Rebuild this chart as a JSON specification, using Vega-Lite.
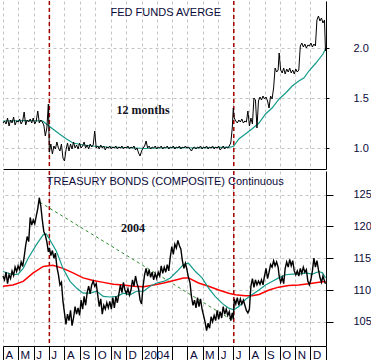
{
  "$schema": "https://vega.github.io/schema/vega-lite/v6.json",
  "padding": 0,
  "spacing": 0,
  "background": "white",
  "config": {
    "view": {"stroke": null},
    "font": "Liberation Sans",
    "axis": {"title": null, "labelColor": "#0a0a3a", "labelFont": "Liberation Sans", "domainColor": "black", "tickColor": "black", "gridColor": "#c4c4c4", "gridDash": [3, 3], "gridWidth": 1, "labelOverlap": false}
  },
  "datasets": {
    "daily": [
      {"d":"2003-04-01","f":1.25,"b":112.2},{"d":"2003-04-04","f":1.27,"b":111.6},{"d":"2003-04-07","f":1.24,"b":112.8},{"d":"2003-04-10","f":1.30,"b":111.0},{"d":"2003-04-13","f":1.22,"b":112.4},{"d":"2003-04-16","f":1.28,"b":111.8},{"d":"2003-04-19","f":1.25,"b":113.0},{"d":"2003-04-22","f":1.31,"b":112.3},{"d":"2003-04-25","f":1.23,"b":113.6},{"d":"2003-04-28","f":1.27,"b":112.9},
      {"d":"2003-05-01","f":1.26,"b":113.8},{"d":"2003-05-04","f":1.29,"b":113.2},{"d":"2003-05-07","f":1.24,"b":114.4},{"d":"2003-05-10","f":1.27,"b":113.7},{"d":"2003-05-13","f":1.36,"b":115.2},{"d":"2003-05-16","f":1.23,"b":117.0},{"d":"2003-05-19","f":1.28,"b":118.4},{"d":"2003-05-22","f":1.26,"b":117.6},{"d":"2003-05-25","f":1.29,"b":121.4},{"d":"2003-05-28","f":1.25,"b":120.2},{"d":"2003-05-31","f":1.30,"b":121.0},
      {"d":"2003-06-03","f":1.24,"b":120.4},{"d":"2003-06-06","f":1.27,"b":121.6},{"d":"2003-06-09","f":1.37,"b":122.8},{"d":"2003-06-12","f":1.25,"b":124.5},{"d":"2003-06-15","f":1.28,"b":123.2},{"d":"2003-06-18","f":1.26,"b":121.0},{"d":"2003-06-21","f":1.23,"b":119.2},{"d":"2003-06-24","f":1.12,"b":118.6},{"d":"2003-06-27","f":1.20,"b":117.6},{"d":"2003-06-30","f":1.44,"b":116.0},
      {"d":"2003-07-02","f":0.96,"b":116.6},{"d":"2003-07-05","f":1.04,"b":115.4},{"d":"2003-07-08","f":0.94,"b":116.2},{"d":"2003-07-11","f":1.02,"b":115.0},{"d":"2003-07-14","f":0.99,"b":115.8},{"d":"2003-07-17","f":1.06,"b":113.6},{"d":"2003-07-20","f":1.00,"b":112.4},{"d":"2003-07-23","f":0.97,"b":110.8},{"d":"2003-07-26","f":1.04,"b":111.2},{"d":"2003-07-29","f":0.90,"b":108.2},
      {"d":"2003-08-01","f":0.87,"b":106.4},{"d":"2003-08-04","f":0.98,"b":104.6},{"d":"2003-08-07","f":1.05,"b":106.2},{"d":"2003-08-10","f":0.97,"b":105.2},{"d":"2003-08-13","f":1.04,"b":106.8},{"d":"2003-08-16","f":0.99,"b":104.4},{"d":"2003-08-19","f":1.06,"b":105.6},{"d":"2003-08-22","f":1.00,"b":107.4},{"d":"2003-08-25","f":1.03,"b":106.2},{"d":"2003-08-28","f":0.99,"b":107.2},{"d":"2003-08-31","f":1.05,"b":106.0},
      {"d":"2003-09-03","f":1.00,"b":108.4},{"d":"2003-09-06","f":1.02,"b":107.0},{"d":"2003-09-09","f":1.06,"b":109.0},{"d":"2003-09-12","f":1.00,"b":107.6},{"d":"2003-09-15","f":1.03,"b":109.6},{"d":"2003-09-18","f":0.99,"b":110.6},{"d":"2003-09-21","f":1.04,"b":109.4},{"d":"2003-09-24","f":1.01,"b":110.8},{"d":"2003-09-27","f":1.03,"b":111.4},{"d":"2003-09-30","f":1.17,"b":110.6},
      {"d":"2003-10-03","f":1.00,"b":111.0},{"d":"2003-10-06","f":1.02,"b":109.2},{"d":"2003-10-09","f":0.99,"b":107.4},{"d":"2003-10-12","f":1.03,"b":108.6},{"d":"2003-10-15","f":1.00,"b":106.2},{"d":"2003-10-18","f":1.02,"b":107.6},{"d":"2003-10-21","f":0.98,"b":107.0},{"d":"2003-10-24","f":1.01,"b":108.0},{"d":"2003-10-27","f":1.00,"b":107.2},{"d":"2003-10-30","f":1.02,"b":108.2},
      {"d":"2003-11-02","f":0.99,"b":107.0},{"d":"2003-11-05","f":1.01,"b":108.8},{"d":"2003-11-08","f":1.00,"b":107.2},{"d":"2003-11-11","f":1.02,"b":109.0},{"d":"2003-11-14","f":0.99,"b":108.0},{"d":"2003-11-17","f":1.01,"b":109.4},{"d":"2003-11-20","f":1.00,"b":110.8},{"d":"2003-11-23","f":1.02,"b":109.6},{"d":"2003-11-26","f":0.99,"b":111.2},{"d":"2003-11-29","f":1.01,"b":110.0},
      {"d":"2003-12-02","f":1.00,"b":109.4},{"d":"2003-12-05","f":1.02,"b":110.2},{"d":"2003-12-08","f":0.99,"b":109.2},{"d":"2003-12-11","f":1.01,"b":110.0},{"d":"2003-12-14","f":1.00,"b":111.6},{"d":"2003-12-17","f":1.02,"b":110.6},{"d":"2003-12-20","f":0.98,"b":112.2},{"d":"2003-12-23","f":1.00,"b":111.0},{"d":"2003-12-26","f":0.95,"b":110.2},{"d":"2003-12-29","f":0.92,"b":108.4},
      {"d":"2004-01-01","f":0.97,"b":107.8},{"d":"2004-01-04","f":1.00,"b":110.6},{"d":"2004-01-07","f":1.02,"b":112.4},{"d":"2004-01-10","f":1.07,"b":113.4},{"d":"2004-01-13","f":1.00,"b":112.2},{"d":"2004-01-16","f":1.02,"b":113.2},{"d":"2004-01-19","f":0.99,"b":112.0},{"d":"2004-01-22","f":1.01,"b":112.8},{"d":"2004-01-25","f":1.00,"b":111.6},{"d":"2004-01-28","f":1.02,"b":112.6},{"d":"2004-01-31","f":0.99,"b":111.8},
      {"d":"2004-02-03","f":1.01,"b":112.8},{"d":"2004-02-06","f":1.00,"b":112.2},{"d":"2004-02-09","f":1.02,"b":113.8},{"d":"2004-02-12","f":0.99,"b":112.6},{"d":"2004-02-15","f":1.01,"b":113.6},{"d":"2004-02-18","f":1.00,"b":112.8},{"d":"2004-02-21","f":1.02,"b":114.0},{"d":"2004-02-24","f":0.99,"b":113.0},{"d":"2004-02-27","f":1.01,"b":115.2},
      {"d":"2004-03-01","f":1.00,"b":116.8},{"d":"2004-03-04","f":1.02,"b":115.6},{"d":"2004-03-07","f":0.99,"b":117.2},{"d":"2004-03-10","f":1.01,"b":116.6},{"d":"2004-03-13","f":1.00,"b":117.8},{"d":"2004-03-16","f":1.02,"b":117.0},{"d":"2004-03-19","f":0.99,"b":116.4},{"d":"2004-03-22","f":1.01,"b":114.6},{"d":"2004-03-25","f":1.00,"b":113.4},{"d":"2004-03-28","f":1.02,"b":114.2},{"d":"2004-03-31","f":1.00,"b":113.2},
      {"d":"2004-04-03","f":1.01,"b":112.0},{"d":"2004-04-06","f":0.99,"b":111.2},{"d":"2004-04-09","f":0.97,"b":109.0},{"d":"2004-04-12","f":1.00,"b":107.6},{"d":"2004-04-15","f":1.01,"b":108.4},{"d":"2004-04-18","f":0.99,"b":107.2},{"d":"2004-04-21","f":1.01,"b":108.8},{"d":"2004-04-24","f":1.00,"b":107.4},{"d":"2004-04-27","f":1.02,"b":108.6},{"d":"2004-04-30","f":0.99,"b":107.0},
      {"d":"2004-05-03","f":1.01,"b":106.0},{"d":"2004-05-06","f":1.00,"b":105.0},{"d":"2004-05-09","f":1.02,"b":103.6},{"d":"2004-05-12","f":0.99,"b":104.8},{"d":"2004-05-15","f":1.01,"b":104.0},{"d":"2004-05-18","f":1.00,"b":105.8},{"d":"2004-05-21","f":1.02,"b":105.0},{"d":"2004-05-24","f":0.99,"b":106.0},{"d":"2004-05-27","f":1.01,"b":105.2},{"d":"2004-05-30","f":1.00,"b":106.8},
      {"d":"2004-06-02","f":1.02,"b":105.4},{"d":"2004-06-05","f":0.98,"b":106.6},{"d":"2004-06-08","f":1.00,"b":105.6},{"d":"2004-06-11","f":1.02,"b":107.4},{"d":"2004-06-14","f":0.99,"b":106.2},{"d":"2004-06-17","f":1.01,"b":107.0},{"d":"2004-06-20","f":1.00,"b":106.0},{"d":"2004-06-23","f":1.02,"b":106.6},{"d":"2004-06-26","f":1.05,"b":105.2},{"d":"2004-06-29","f":1.20,"b":106.4},
      {"d":"2004-07-01","f":1.40,"b":105.4},{"d":"2004-07-03","f":1.30,"b":108.6},{"d":"2004-07-06","f":1.27,"b":107.8},{"d":"2004-07-09","f":1.25,"b":108.8},{"d":"2004-07-12","f":1.28,"b":107.6},{"d":"2004-07-15","f":1.26,"b":108.6},{"d":"2004-07-18","f":1.29,"b":107.8},{"d":"2004-07-21","f":1.25,"b":108.4},{"d":"2004-07-24","f":1.27,"b":107.6},{"d":"2004-07-27","f":1.26,"b":106.8},{"d":"2004-07-30","f":1.37,"b":106.4},
      {"d":"2004-08-02","f":1.22,"b":107.0},{"d":"2004-08-05","f":1.30,"b":110.6},{"d":"2004-08-08","f":1.24,"b":111.8},{"d":"2004-08-11","f":1.50,"b":110.4},{"d":"2004-08-14","f":1.48,"b":111.6},{"d":"2004-08-17","f":1.20,"b":110.8},{"d":"2004-08-20","f":1.47,"b":111.4},{"d":"2004-08-23","f":1.51,"b":110.9},{"d":"2004-08-26","f":1.48,"b":111.6},{"d":"2004-08-29","f":1.52,"b":110.8},
      {"d":"2004-09-01","f":1.49,"b":112.2},{"d":"2004-09-04","f":1.51,"b":113.4},{"d":"2004-09-07","f":1.47,"b":111.8},{"d":"2004-09-10","f":1.40,"b":112.8},{"d":"2004-09-13","f":1.52,"b":114.0},{"d":"2004-09-16","f":1.49,"b":113.6},{"d":"2004-09-19","f":1.60,"b":114.6},{"d":"2004-09-22","f":1.80,"b":113.8},{"d":"2004-09-25","f":1.76,"b":114.4},{"d":"2004-09-28","f":1.78,"b":113.6},{"d":"2004-09-30","f":1.95,"b":112.2},
      {"d":"2004-10-03","f":1.78,"b":111.2},{"d":"2004-10-06","f":1.75,"b":112.0},{"d":"2004-10-09","f":1.80,"b":111.0},{"d":"2004-10-12","f":1.74,"b":113.4},{"d":"2004-10-15","f":1.79,"b":114.4},{"d":"2004-10-18","f":1.76,"b":113.6},{"d":"2004-10-21","f":1.80,"b":114.8},{"d":"2004-10-24","f":1.75,"b":113.8},{"d":"2004-10-27","f":1.78,"b":114.6},{"d":"2004-10-30","f":1.74,"b":113.0},
      {"d":"2004-11-02","f":1.79,"b":112.4},{"d":"2004-11-05","f":1.76,"b":113.0},{"d":"2004-11-08","f":1.78,"b":112.2},{"d":"2004-11-11","f":2.02,"b":113.4},{"d":"2004-11-14","f":2.05,"b":112.6},{"d":"2004-11-17","f":2.01,"b":113.6},{"d":"2004-11-20","f":2.04,"b":112.8},{"d":"2004-11-23","f":2.00,"b":113.2},{"d":"2004-11-26","f":2.03,"b":111.4},{"d":"2004-11-29","f":2.02,"b":110.8},
      {"d":"2004-12-02","f":2.05,"b":111.6},{"d":"2004-12-05","f":2.01,"b":113.0},{"d":"2004-12-08","f":2.04,"b":115.0},{"d":"2004-12-11","f":2.02,"b":113.6},{"d":"2004-12-14","f":2.28,"b":114.6},{"d":"2004-12-17","f":2.32,"b":113.2},{"d":"2004-12-20","f":2.27,"b":112.0},{"d":"2004-12-23","f":2.30,"b":111.2},{"d":"2004-12-26","f":2.25,"b":112.2},{"d":"2004-12-29","f":2.28,"b":111.4},{"d":"2004-12-31","f":1.97,"b":111.0}
    ],
    "fedma": [
      {"d":"2003-04-01","v":1.27},{"d":"2003-05-15","v":1.275},{"d":"2003-06-19","v":1.27},{"d":"2003-06-26","v":1.24},{"d":"2003-07-09","v":1.19},{"d":"2003-07-22","v":1.14},{"d":"2003-08-05","v":1.09},{"d":"2003-08-18","v":1.05},{"d":"2003-09-07","v":1.03},{"d":"2003-09-27","v":1.02},{"d":"2003-10-25","v":1.01},{"d":"2003-11-30","v":1.005},{"d":"2003-12-20","v":1.0},{"d":"2004-01-10","v":0.995},{"d":"2004-02-01","v":1.0},{"d":"2004-03-15","v":1.005},{"d":"2004-04-20","v":1.0},{"d":"2004-05-25","v":1.005},{"d":"2004-06-25","v":1.008},
      {"d":"2004-07-02","v":1.02},{"d":"2004-07-12","v":1.09},{"d":"2004-07-25","v":1.14},{"d":"2004-08-07","v":1.19},{"d":"2004-08-21","v":1.25},{"d":"2004-09-03","v":1.34},{"d":"2004-09-16","v":1.40},{"d":"2004-09-30","v":1.49},{"d":"2004-10-13","v":1.55},{"d":"2004-10-26","v":1.62},{"d":"2004-11-08","v":1.67},{"d":"2004-11-18","v":1.70},{"d":"2004-11-28","v":1.77},{"d":"2004-12-12","v":1.85},{"d":"2004-12-26","v":1.94},{"d":"2004-12-31","v":1.99}
    ],
    "bondteal": [
      {"d":"2003-04-01","v":112.9},{"d":"2003-04-21","v":112.4},{"d":"2003-05-01","v":112.5},{"d":"2003-05-11","v":113.4},{"d":"2003-05-21","v":115.0},{"d":"2003-06-06","v":117.1},{"d":"2003-06-20","v":118.7},{"d":"2003-06-26","v":118.8},{"d":"2003-07-03","v":117.9},{"d":"2003-07-16","v":116.1},{"d":"2003-07-29","v":113.4},{"d":"2003-08-12","v":111.35},{"d":"2003-08-25","v":110.3},{"d":"2003-09-07","v":109.5},{"d":"2003-09-21","v":109.5},{"d":"2003-10-04","v":109.8},{"d":"2003-10-17","v":109.0},{"d":"2003-10-30","v":108.9},{"d":"2003-11-13","v":109.0},{"d":"2003-11-26","v":109.5},{"d":"2003-12-09","v":109.25},{"d":"2003-12-22","v":109.8},
      {"d":"2004-01-05","v":109.8},{"d":"2004-01-18","v":110.6},{"d":"2004-01-31","v":111.1},{"d":"2004-02-14","v":111.35},{"d":"2004-02-27","v":111.9},{"d":"2004-03-11","v":112.9},{"d":"2004-03-24","v":114.0},{"d":"2004-04-03","v":114.2},{"d":"2004-04-17","v":112.9},{"d":"2004-04-30","v":111.9},{"d":"2004-05-13","v":110.3},{"d":"2004-05-26","v":109.0},{"d":"2004-06-09","v":107.9},{"d":"2004-06-22","v":107.15},{"d":"2004-07-02","v":106.9},{"d":"2004-07-12","v":107.4},{"d":"2004-07-25","v":108.5},{"d":"2004-08-07","v":109.25},{"d":"2004-08-21","v":110.0},{"d":"2004-09-03","v":110.8},{"d":"2004-09-16","v":111.35},{"d":"2004-09-29","v":111.9},{"d":"2004-10-13","v":112.4},{"d":"2004-10-26","v":112.5},{"d":"2004-11-08","v":112.5},{"d":"2004-11-21","v":112.7},{"d":"2004-12-05","v":112.5},{"d":"2004-12-18","v":112.9},{"d":"2004-12-25","v":112.7},{"d":"2004-12-31","v":111.9}
    ],
    "bondred": [
      {"d":"2003-04-01","v":110.6},{"d":"2003-04-21","v":110.8},{"d":"2003-05-11","v":111.35},{"d":"2003-05-31","v":112.7},{"d":"2003-06-20","v":113.7},{"d":"2003-07-09","v":113.9},{"d":"2003-07-29","v":113.4},{"d":"2003-08-18","v":112.7},{"d":"2003-09-07","v":111.9},{"d":"2003-09-27","v":111.5},{"d":"2003-10-17","v":111.2},{"d":"2003-11-06","v":110.9},{"d":"2003-11-26","v":110.8},{"d":"2003-12-16","v":110.6},
      {"d":"2004-01-05","v":110.5},{"d":"2004-01-25","v":110.8},{"d":"2004-02-14","v":111.1},{"d":"2004-03-05","v":111.5},{"d":"2004-03-24","v":111.9},{"d":"2004-04-03","v":111.9},{"d":"2004-04-23","v":111.1},{"d":"2004-05-13","v":110.6},{"d":"2004-06-02","v":110.0},{"d":"2004-06-22","v":109.5},{"d":"2004-07-05","v":109.25},{"d":"2004-07-25","v":109.1},{"d":"2004-08-07","v":109.1},{"d":"2004-08-21","v":109.3},{"d":"2004-09-10","v":110.0},{"d":"2004-09-29","v":110.45},{"d":"2004-10-19","v":110.7},{"d":"2004-11-08","v":110.8},{"d":"2004-11-28","v":111.0},{"d":"2004-12-18","v":111.2},{"d":"2004-12-31","v":111.35}
    ],
    "trend": [{"d":"2003-06-13","v":123.8},{"d":"2004-06-30","v":105.2}],
    "events": [{"d":"2003-07-02"},{"d":"2004-07-02"}]
  },
  "vconcat": [
    {
      "width": 323,
      "height": 168,
      "encoding": {
        "x": {"field": "d", "type": "temporal",
          "scale": {"type": "utc", "domain": [{"year": 2003, "month": 4, "date": 1, "utc": true}, {"year": 2005, "month": 1, "date": 1, "utc": true}]},
          "axis": {"orient": "bottom", "tickCount": {"interval": "month", "step": 1}, "ticks": false, "labels": false, "domain": true, "grid": true}}
      },
      "layer": [
        {"data": {"name": "events"}, "mark": {"type": "rule", "color": "#a50000", "strokeDash": [4, 3], "strokeWidth": 1.5}, "encoding": {}},
        {"data": {"name": "fedma"}, "mark": {"type": "line", "color": "#149a8a", "strokeWidth": 1.2},
          "encoding": {"y": {"field": "v", "type": "quantitative", "scale": {"domain": [0.79, 2.47], "zero": false, "nice": false},
            "axis": {"orient": "right", "values": [1, 1.25, 1.5, 1.75, 2, 2.25], "labelExpr": "datum.value % 0.5 == 0 ? format(datum.value, '.1f') : ''", "tickSize": 3, "labelPadding": 24, "labelFontSize": 11, "grid": true, "gridOpacity": {"condition": {"test": "datum.value % 0.5 == 0", "value": 1}, "value": 0}}}}},
        {"data": {"name": "daily"}, "mark": {"type": "line", "color": "black", "strokeWidth": 1},
          "encoding": {"y": {"field": "f", "type": "quantitative", "scale": {"domain": [0.79, 2.47], "zero": false, "nice": false}}}},
        {"data": {"values": [{"d": "2004-02-18", "v": 2.35, "t": "FED FUNDS AVERGE"}]}, "mark": {"type": "text", "font": "Liberation Sans", "fontSize": 11, "color": "#0a0a3a", "baseline": "middle", "align": "center"},
          "encoding": {"y": {"field": "v", "type": "quantitative", "scale": {"domain": [0.79, 2.47], "zero": false, "nice": false}}, "text": {"field": "t"}}},
        {"data": {"values": [{"d": "2004-01-04", "v": 1.38, "t": "12 months"}]}, "mark": {"type": "text", "font": "Liberation Serif", "fontWeight": "bold", "fontSize": 12, "color": "#111122", "baseline": "middle", "align": "center"},
          "encoding": {"y": {"field": "v", "type": "quantitative", "scale": {"domain": [0.79, 2.47], "zero": false, "nice": false}}, "text": {"field": "t"}}}
      ]
    },
    {
      "width": 323,
      "height": 175,
      "encoding": {
        "x": {"field": "d", "type": "temporal",
          "scale": {"type": "utc", "domain": [{"year": 2003, "month": 4, "date": 1, "utc": true}, {"year": 2005, "month": 1, "date": 1, "utc": true}]},
          "axis": {"orient": "bottom", "tickCount": {"interval": "month", "step": 1}, "tickSize": 17, "labelAlign": "left", "labelOffset": 2, "labelPadding": -14, "labelBaseline": "top", "labelFontSize": 11.5, "labelOverlap": false, "labelBound": false, "labelFlush": false, "grid": true,
            "labelExpr": "utcyear(datum.value) == 2005 ? '' : utcmonth(datum.value) == 0 ? '2004' : (utcyear(datum.value) == 2004 && (utcmonth(datum.value) == 1 || utcmonth(datum.value) == 2)) ? '' : substring(utcFormat(datum.value, '%b'), 0, 1)"}}
      },
      "layer": [
        {"data": {"name": "events"}, "mark": {"type": "rule", "color": "#a50000", "strokeDash": [4, 3], "strokeWidth": 1.5}, "encoding": {}},
        {"data": {"name": "trend"}, "mark": {"type": "line", "color": "#2e8b2e", "strokeDash": [3, 3], "strokeWidth": 1},
          "encoding": {"y": {"field": "v", "type": "quantitative", "scale": {"domain": [101.2, 128.7], "zero": false, "nice": false},
            "axis": {"orient": "right", "values": [105, 110, 115, 120, 125], "format": "d", "tickSize": 7, "labelPadding": 20, "labelFontSize": 11, "labelOverlap": false, "grid": true}}}},
        {"data": {"name": "bondred"}, "mark": {"type": "line", "color": "#ff0000", "strokeWidth": 1.5},
          "encoding": {"y": {"field": "v", "type": "quantitative", "scale": {"domain": [101.2, 128.7], "zero": false, "nice": false}}}},
        {"data": {"name": "bondteal"}, "mark": {"type": "line", "color": "#149a8a", "strokeWidth": 1.2},
          "encoding": {"y": {"field": "v", "type": "quantitative", "scale": {"domain": [101.2, 128.7], "zero": false, "nice": false}}}},
        {"data": {"name": "daily"}, "mark": {"type": "line", "color": "black", "strokeWidth": 1.4},
          "encoding": {"y": {"field": "b", "type": "quantitative", "scale": {"domain": [101.2, 128.7], "zero": false, "nice": false}}}},
        {"data": {"values": [{"d": "2004-02-17", "v": 126.97, "t": "TREASURY BONDS (COMPOSITE) Continuous"}]}, "mark": {"type": "text", "font": "Liberation Sans", "fontSize": 11, "color": "#0a0a3a", "baseline": "middle", "align": "center"},
          "encoding": {"y": {"field": "v", "type": "quantitative", "scale": {"domain": [101.2, 128.7], "zero": false, "nice": false}}, "text": {"field": "t"}}},
        {"data": {"values": [{"d": "2003-12-15", "v": 119.73, "t": "2004"}]}, "mark": {"type": "text", "font": "Liberation Serif", "fontWeight": "bold", "fontSize": 12, "color": "#111122", "baseline": "middle", "align": "center"},
          "encoding": {"y": {"field": "v", "type": "quantitative", "scale": {"domain": [101.2, 128.7], "zero": false, "nice": false}}, "text": {"field": "t"}}}
      ]
    }
  ]
}
